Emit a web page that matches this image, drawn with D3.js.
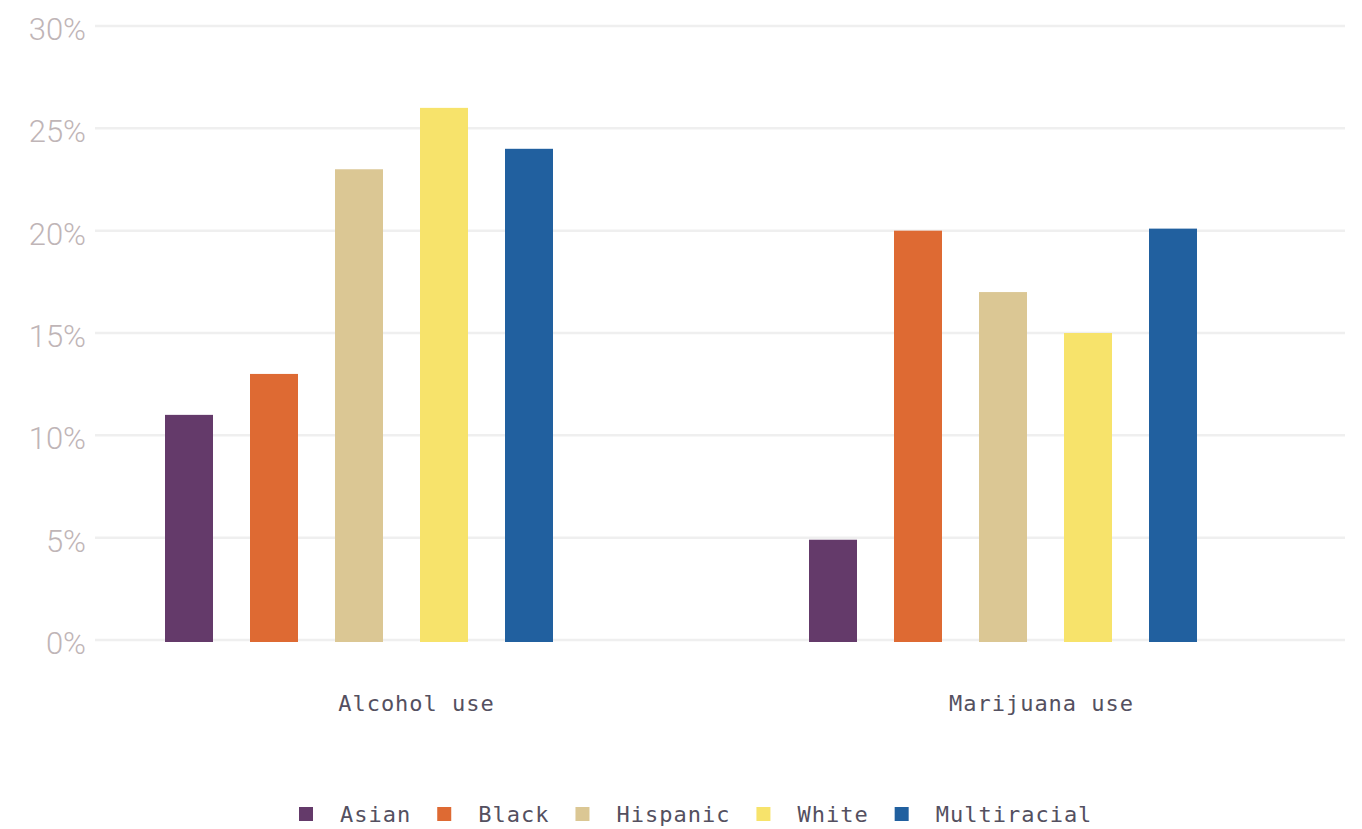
<!DOCTYPE html>
<html><head><meta charset="utf-8">
<script src="https://cdn.jsdelivr.net/npm/d3@7"></script>
<style>
html,body{margin:0;padding:0;background:#fff;}
svg{display:block;}
</style></head>
<body>
<svg id="chart" width="1362" height="829"></svg>
<script>
const categories = ["Alcohol use", "Marijuana use"];
const races = ["Asian", "Black", "Hispanic", "White", "Multiracial"];
const colors = ["#643a6a", "#de6a33", "#dbc794", "#f7e36b", "#21609f"];
const alcoholValues = [11, 13, 23, 26, 24];
const marijuanaValues = [4.9, 20, 17, 15, 20.1];
const yTicks = [0, 5, 10, 15, 20, 25, 30];

const seriesByCategory = [alcoholValues, marijuanaValues];
const svg = d3.select("#chart");

const y = d3.scaleLinear().domain([0, 30]).range([640, 26]);
const x0 = d3.scaleBand().domain(categories).range([104, 1392]);
const xLabel = d3.scaleBand().domain(categories).range([104, 1354]);
const x1 = d3.scaleBand().domain(races).range([61, 449]).paddingInner(37/85).paddingOuter(0);
const color = d3.scaleOrdinal().domain(races).range(colors);

// gridlines
svg.append("g").selectAll("line").data(yTicks).join("line")
  .attr("x1", 95).attr("x2", 1345)
  .attr("y1", d => y(d)).attr("y2", d => y(d))
  .attr("stroke", "#efefef").attr("stroke-width", 2.5);

// y labels
svg.append("g").selectAll("text").data(yTicks).join("text")
  .attr("x", 86).attr("y", d => y(d) + 14)
  .attr("text-anchor", "end")
  .attr("font-family", "Roboto, 'Liberation Sans', sans-serif")
  .attr("font-weight", 300)
  .attr("font-size", 31)
  .attr("fill", "#bfb5b7")
  .text(d => d + "%");

// bars
const groups = svg.append("g").selectAll("g").data(categories).join("g")
  .attr("transform", d => `translate(${x0(d)},0)`);
groups.selectAll("rect")
  .data((d, i) => races.map((r, j) => ({race: r, value: seriesByCategory[i][j]})))
  .join("rect")
  .attr("x", d => x1(d.race))
  .attr("width", x1.bandwidth())
  .attr("y", d => y(d.value))
  .attr("height", d => y(0) + 2 - y(d.value))
  .attr("fill", d => color(d.race));

// category labels
svg.append("g").selectAll("text").data(categories).join("text")
  .attr("x", d => xLabel(d) + xLabel.bandwidth() / 2)
  .attr("y", 711)
  .attr("text-anchor", "middle")
  .attr("font-family", "'DejaVu Sans Mono', 'Liberation Mono', monospace")
  .attr("font-size", 22)
  .attr("letter-spacing", 1)
  .attr("fill", "#545060")
  .text(d => d);

// legend
const legend = svg.append("g");
let lx = 299;
races.forEach((r, i) => {
  legend.append("rect").attr("x", lx).attr("y", 807).attr("width", 14).attr("height", 14).attr("fill", color(r));
  const t = legend.append("text").attr("x", lx + 41).attr("y", 822)
    .attr("font-family", "'DejaVu Sans Mono', 'Liberation Mono', monospace")
    .attr("font-size", 22).attr("letter-spacing", 1)
    .attr("fill", "#545060").text(r);
  const w = t.node().getComputedTextLength();
  lx = lx + 41 + w + 26;
});
</script>
</body></html>
